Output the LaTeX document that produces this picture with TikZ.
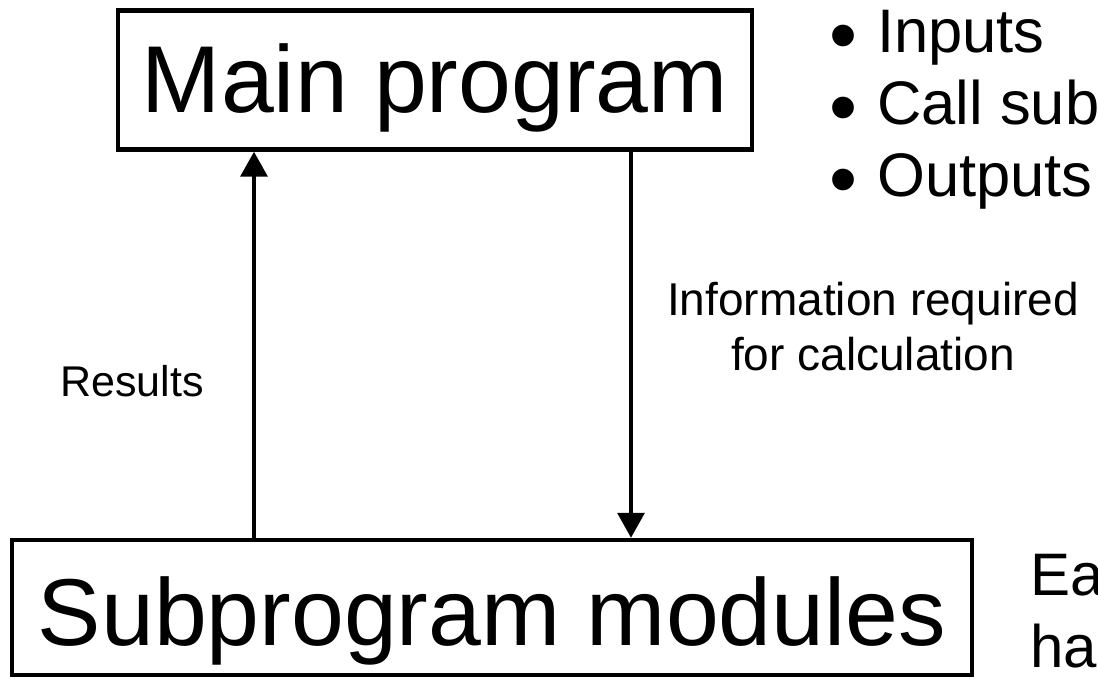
\documentclass[tikz,border=0pt]{standalone}
\usepackage{fontspec}
\setmainfont{Liberation Sans}
\usetikzlibrary{positioning,arrows.meta}

\begin{document}
\begin{tikzpicture}[x=1pt, y=-1pt,
  box/.style={draw, line width=4.5pt, inner sep=0pt, text depth=0pt},
  big/.style={font=\fontsize{95}{100}\selectfont},
  lab/.style={font=\fontsize{46}{55}\selectfont, inner sep=0pt},
  itm/.style={font=\fontsize{61.5}{72}\selectfont, inner sep=0pt, anchor=base west},
  blt/.style={font=\fontsize{80}{80}\selectfont, inner sep=0pt, anchor=base},
  arr/.style={line width=3.5pt, -{Triangle[length=25pt,width=27pt]}}]
\useasboundingbox (0,0) rectangle (1098,679);
% boxes
\node[box, big, text height=66pt, minimum width=634pt, minimum height=139pt] (main) at (435,80) {Main program};
\node[box, big, text height=75pt, minimum width=960pt, minimum height=135pt] (sub) at (492,607.5) {Subprogram modules};
% bullet list (cut by the page edge)
\node[itm] (in) at (877,53) {Inputs};
\node[itm] (call) at (877,125) {Call sub};
\node[itm] (out) at (877,197) {Outputs};
\foreach \n in {in,call,out}
  \node[blt] (b-\n) at ([xshift=-34pt,yshift=-10pt]\n.base west) {\textbullet};
% arrows
\coordinate (upx) at (254,0);
\coordinate (dnx) at (631,0);
\draw[arr] (sub.north -| upx) -- (main.south -| upx);
\draw[arr] (main.south -| dnx) -- (sub.north -| dnx);
\node[lab, font=\fontsize{43}{50}\selectfont, anchor=base west] (res) at (60,396) {Results};
\node[lab, anchor=base, align=center] (info) at (873,370) {Information required\\for calculation};
% note beside the modules box
\node[font=\fontsize{60}{72}\selectfont, inner sep=0pt, anchor=base west] (ea) at (1030,595) {Ea};
\node[font=\fontsize{60}{72}\selectfont, inner sep=0pt, anchor=base west] (ha) at (1030,667) {ha};
\end{tikzpicture}
\end{document}
